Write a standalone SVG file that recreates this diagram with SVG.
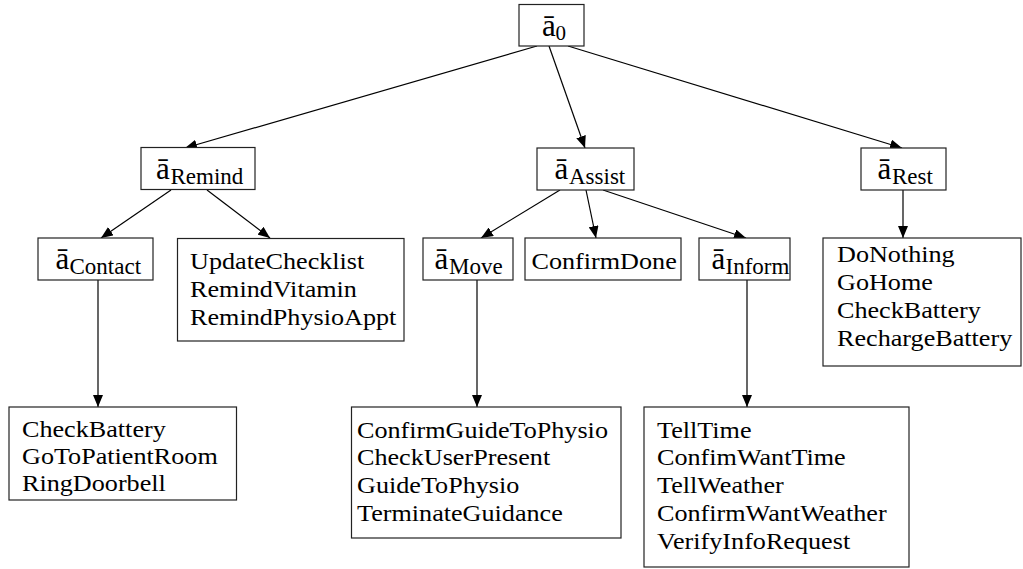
<svg xmlns="http://www.w3.org/2000/svg" width="1023" height="569" viewBox="0 0 1023 569">
  <style>
    .box { fill: #ffffff; stroke: #222222; stroke-width: 1.2; }
    .edge { fill: none; stroke: #000000; stroke-width: 1.2; marker-end: url(#arrow); }
    text { font-family: "Liberation Serif", "Times New Roman", Times, serif; fill: #000000; }
    .item { font-size: 24px; }
    .abar { font-size: 31px; }
    .sub { font-size: 23px; }
    .sub0 { font-size: 21px; }
  </style>
  <defs>
    <marker id="arrow" markerUnits="userSpaceOnUse" markerWidth="12" markerHeight="10" viewBox="0 0 12 10" refX="12" refY="5" orient="auto">
      <path d="M0,0 L12,5 L0,10 Z" fill="#000000"/>
    </marker>
  </defs>

  <!-- connectors -->
  <g id="edges">
    <line class="edge" x1="537" y1="46" x2="185" y2="148"/>
    <line class="edge" x1="549" y1="46" x2="585" y2="148"/>
    <line class="edge" x1="568" y1="46" x2="902" y2="148"/>
    <line class="edge" x1="171" y1="190" x2="101" y2="238"/>
    <line class="edge" x1="207" y1="190" x2="270" y2="238"/>
    <line class="edge" x1="98" y1="280" x2="98" y2="407"/>
    <line class="edge" x1="560" y1="190" x2="481" y2="238"/>
    <line class="edge" x1="586" y1="190" x2="596" y2="238"/>
    <line class="edge" x1="603" y1="190" x2="746" y2="238"/>
    <line class="edge" x1="903" y1="190" x2="903" y2="238"/>
    <line class="edge" x1="477" y1="280" x2="477" y2="407"/>
    <line class="edge" x1="747" y1="280" x2="747" y2="407"/>
  </g>

  <!-- abstract action nodes -->
  <g id="a0">
    <rect class="box" x="519" y="4.5" width="65" height="41.5"/>
    <text><tspan class="abar" x="542" y="35.7">ā</tspan><tspan class="sub0" x="555.5" y="39.5">0</tspan></text>
  </g>
  <g id="aRemind">
    <rect class="box" x="141" y="147.5" width="114" height="42"/>
    <text><tspan class="abar" x="156" y="178.5">ā</tspan><tspan class="sub" x="170.5" y="183.5">Remind</tspan></text>
  </g>
  <g id="aAssist">
    <rect class="box" x="537" y="148" width="97" height="42"/>
    <text><tspan class="abar" x="554.5" y="178.5">ā</tspan><tspan class="sub" x="569" y="183.5">Assist</tspan></text>
  </g>
  <g id="aRest">
    <rect class="box" x="861" y="148" width="85" height="42"/>
    <text><tspan class="abar" x="877.5" y="178.5">ā</tspan><tspan class="sub" x="892" y="183.5">Rest</tspan></text>
  </g>
  <g id="aContact">
    <rect class="box" x="38" y="238" width="115" height="42"/>
    <text><tspan class="abar" x="55.5" y="268.5">ā</tspan><tspan class="sub" x="69.5" y="273.5">Contact</tspan></text>
  </g>
  <g id="aMove">
    <rect class="box" x="423" y="238" width="90" height="42"/>
    <text><tspan class="abar" x="434.5" y="268.5">ā</tspan><tspan class="sub" x="449" y="273.5">Move</tspan></text>
  </g>
  <g id="aInform">
    <rect class="box" x="699" y="238" width="91" height="42"/>
    <text><tspan class="abar" x="711.5" y="268.5">ā</tspan><tspan class="sub" x="725.5" y="273.5">Inform</tspan></text>
  </g>

  <!-- primitive action nodes -->
  <g id="remindActions">
    <rect class="box" x="177.5" y="238.5" width="226.5" height="102.5"/>
    <text class="item" transform="translate(190,269) scale(1.09,1)"><tspan x="0" y="0">UpdateChecklist</tspan><tspan x="0" y="28">RemindVitamin</tspan><tspan x="0" y="56">RemindPhysioAppt</tspan></text>
  </g>
  <g id="confirmDone">
    <rect class="box" x="525" y="238" width="156" height="42"/>
    <text class="item" transform="translate(531.5,268.5) scale(1.09,1)">ConfirmDone</text>
  </g>
  <g id="restActions">
    <rect class="box" x="823" y="238" width="198" height="128"/>
    <text class="item" transform="translate(837,262) scale(1.09,1)"><tspan x="0" y="0">DoNothing</tspan><tspan x="0" y="28">GoHome</tspan><tspan x="0" y="56">CheckBattery</tspan><tspan x="0" y="84">RechargeBattery</tspan></text>
  </g>
  <g id="contactActions">
    <rect class="box" x="9" y="407" width="227.5" height="93"/>
    <text class="item" transform="translate(22,437) scale(1.09,1)"><tspan x="0" y="0">CheckBattery</tspan><tspan x="0" y="27">GoToPatientRoom</tspan><tspan x="0" y="54">RingDoorbell</tspan></text>
  </g>
  <g id="moveActions">
    <rect class="box" x="351.5" y="407" width="269.5" height="131"/>
    <text class="item" transform="translate(357,437.5) scale(1.09,1)"><tspan x="0" y="0">ConfirmGuideToPhysio</tspan><tspan x="0" y="28">CheckUserPresent</tspan><tspan x="0" y="56">GuideToPhysio</tspan><tspan x="0" y="84">TerminateGuidance</tspan></text>
  </g>
  <g id="informActions">
    <rect class="box" x="644" y="407" width="265" height="160"/>
    <text class="item" transform="translate(657,437.5) scale(1.09,1)"><tspan x="0" y="0">TellTime</tspan><tspan x="0" y="28">ConfimWantTime</tspan><tspan x="0" y="56">TellWeather</tspan><tspan x="0" y="84">ConfirmWantWeather</tspan><tspan x="0" y="112">VerifyInfoRequest</tspan></text>
  </g>
</svg>
